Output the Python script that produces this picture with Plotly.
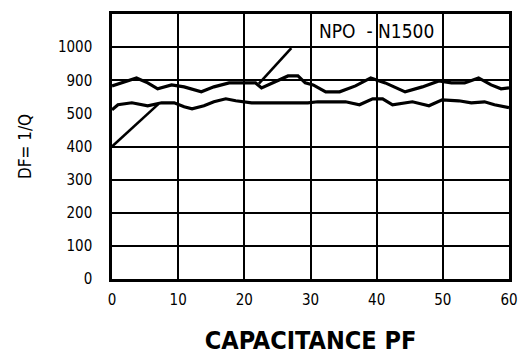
import plotly.graph_objects as go

# Axis tick labels (y labels as printed on the chart; equally spaced rows)
x_ticks = [0, 10, 20, 30, 40, 50, 60]
x_tick_text = ["0", "10", "20", "30", "40", "50", "60"]
y_ticks = [0, 100, 200, 300, 400, 500, 600, 700]
y_tick_text = ["0", "100", "200", "300", "400", "500", "900", "1000"]
y_grid = [100, 200, 300, 400, 600, 700]

# Upper curve (chart row units)
upper_x = [0, 1.9, 3.7, 5.4, 6.9, 9.0, 10.9, 13.5, 15.4, 17.7, 19.6, 21.7, 22.6, 24.7,
           26.6, 28.1, 29.2, 30.4, 32.3, 34.4, 36.8, 39.1, 41.3, 44.3, 46.9, 49.4,
           51.3, 53.3, 55.4, 57.3, 58.8, 60]
upper_y = [583, 595, 607, 592, 574, 586, 580, 565, 580, 592, 592, 592, 577, 595,
           613, 613, 592, 586, 565, 565, 583, 607, 592, 565, 580, 598,
           592, 592, 607, 586, 574, 577]

# Lower curve
lower_x = [0, 0.9, 3.0, 5.4, 7.5, 9.4, 10.9, 12.1, 13.9, 15.4, 17.2, 18.7, 21.1, 24.7,
           29.6, 31.1, 35.3, 37.4, 39.4, 40.9, 42.4, 45.4, 47.9, 49.9, 52.4, 54.3,
           56.3, 57.8, 60]
lower_y = [511, 526, 532, 523, 532, 532, 520, 514, 523, 535, 544, 538, 532, 532,
           532, 535, 535, 526, 544, 544, 526, 535, 523, 541, 538, 532,
           535, 526, 517]

# Diagonal segments
diag1_x = [0, 7.0]
diag1_y = [400, 528]
diag2_x = [22.2, 27.1]
diag2_y = [590, 697]

label_text = "NPO  - N1500"

FONT = "Liberation Sans Narrow, DejaVu Sans Condensed, Arial Narrow, sans-serif"

fig = go.Figure()
for xs, ys, w in [(upper_x, upper_y, 3.2), (lower_x, lower_y, 3.2),
                  (diag1_x, diag1_y, 2.6), (diag2_x, diag2_y, 2.6)]:
    fig.add_trace(go.Scatter(x=xs, y=ys, mode="lines",
                             line=dict(color="black", width=w),
                             showlegend=False, hoverinfo="skip"))

fig.add_annotation(x=40.0, y=750, text=label_text, showarrow=False,
                   font=dict(family=FONT, size=19, color="black"))

fig.update_layout(
    width=520, height=356,
    margin=dict(l=112, r=11, t=14, b=77),
    paper_bgcolor="white", plot_bgcolor="white",
    font=dict(family=FONT, color="black"),
    xaxis=dict(range=[0, 60], tickvals=x_ticks, ticktext=x_tick_text,
               automargin=False, ticklabeloverflow="allow",
               showgrid=True, gridcolor="black", gridwidth=2,
               showline=True, linecolor="black", linewidth=3, mirror=True,
               zeroline=False, ticks="", ticklabelstandoff=5,
               tickfont=dict(size=15, family=FONT),
               title=dict(text="CAPACITANCE PF",
                          font=dict(size=25, family=FONT, weight="bold"),
                          standoff=24)),
    yaxis=dict(range=[0, 800], tickvals=y_ticks, ticktext=y_tick_text,
               automargin=False,
               showgrid=False,
               minor=dict(tickvals=y_grid, showgrid=True, gridcolor="black",
                          gridwidth=2, ticks=""),
               showline=True, linecolor="black", linewidth=2.5, mirror=True,
               zeroline=False, ticks="", ticklabelstandoff=14,
               tickfont=dict(size=15, family=FONT),
               title=dict(text="DF= 1/Q", font=dict(size=17, family=FONT),
                          standoff=22)),
)

fig.write_html("out.html")
